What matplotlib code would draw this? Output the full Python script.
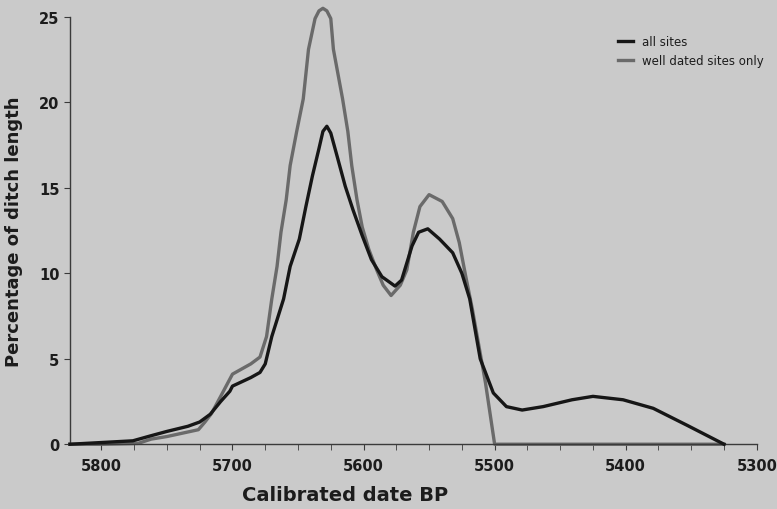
import matplotlib
matplotlib.use("Agg")
import matplotlib.pyplot as plt
from matplotlib.ticker import MultipleLocator

# all sites (black)
all_dates = [5824, 5800, 5776, 5762, 5750, 5734, 5725, 5717, 5709, 5702, 5700,
             5686, 5679, 5675, 5670, 5661, 5656, 5649, 5644, 5639, 5634, 5631,
             5628, 5625, 5620, 5614, 5608, 5601, 5594, 5586, 5576, 5571, 5563,
             5558, 5551, 5542, 5532, 5525, 5519, 5511, 5501, 5491, 5479, 5463,
             5441, 5425, 5402, 5379, 5353, 5325]
all_vals = [0.0, 0.1, 0.2, 0.5, 0.75, 1.05, 1.3, 1.75, 2.5, 3.1, 3.4,
            3.9, 4.2, 4.7, 6.3, 8.5, 10.4, 12.0, 13.9, 15.7, 17.3, 18.3,
            18.6, 18.2, 16.8, 15.1, 13.7, 12.2, 10.8, 9.8, 9.25, 9.6, 11.6,
            12.4, 12.6, 12.0, 11.2, 10.0, 8.5, 5.0, 3.0, 2.2, 2.0, 2.2,
            2.6, 2.8, 2.6, 2.1, 1.1, 0.0]

# well dated sites only (grey)
well_dates = [5824, 5800, 5772, 5762, 5750, 5735, 5726, 5721, 5716, 5709, 5700,
              5686, 5679, 5674, 5670, 5666, 5663, 5659, 5656, 5651, 5646, 5642,
              5637, 5634, 5631, 5628, 5625, 5623, 5616, 5612, 5609, 5605, 5601,
              5596, 5590, 5585, 5579, 5572, 5567, 5562, 5557, 5550, 5540, 5532,
              5527, 5522, 5517, 5507, 5500, 5325]
well_vals = [0.0, 0.0, 0.05, 0.3, 0.45, 0.7, 0.85, 1.3, 1.8, 2.8, 4.1,
             4.7, 5.1, 6.3, 8.5, 10.4, 12.4, 14.3, 16.3, 18.3, 20.2, 23.1,
             24.9, 25.35, 25.5, 25.35, 24.9, 23.1, 20.2, 18.3, 16.3, 14.3, 12.7,
             11.4, 10.2, 9.3, 8.7, 9.3, 10.2, 12.4, 13.9, 14.6, 14.2, 13.2,
             11.8, 9.8, 7.9, 3.6, 0.0, 0.0]

bg = "#cacaca"
fig = plt.figure(figsize=(7.77, 5.10), dpi=100, facecolor=bg)
ax = fig.add_axes([0.090, 0.127, 0.884, 0.838])
ax.set_facecolor(bg)

ax.plot(all_dates, all_vals, color="#161616", lw=2.4, label="all sites",
        clip_on=False, zorder=3)
ax.plot(well_dates, well_vals, color="#6a6a6a", lw=2.4,
        label="well dated sites only", clip_on=False, zorder=2)

ax.set_xlim(5824, 5300)
ax.set_ylim(0, 25)
ax.xaxis.set_major_locator(MultipleLocator(100))
ax.xaxis.set_minor_locator(MultipleLocator(25))
ax.yaxis.set_major_locator(MultipleLocator(5))

for s in ["top", "right"]:
    ax.spines[s].set_visible(False)
for s in ["left", "bottom"]:
    ax.spines[s].set_color("#3a3a3a")
    ax.spines[s].set_linewidth(1.0)

ax.tick_params(axis="both", which="both", direction="out", color="#3a3a3a")
ax.tick_params(axis="both", which="major", length=4, labelsize=10.5,
               labelcolor="#1c1c1c")
ax.tick_params(axis="x", which="minor", length=4)
ax.tick_params(axis="x", pad=6)
for lab in ax.get_xticklabels() + ax.get_yticklabels():
    lab.set_fontweight("bold")

ax.set_xlabel("Calibrated date BP", fontsize=14, fontweight="bold",
              color="#1c1c1c")
ax.xaxis.set_label_coords(0.40, -0.095)
ax.set_ylabel("Percentage of ditch length", fontsize=13, fontweight="bold",
              color="#1c1c1c")
ax.yaxis.set_label_coords(-0.068, 0.5)

leg = fig.legend(loc="upper left", bbox_to_anchor=(618 / 777, 1 - 36 / 510),
                 frameon=False, fontsize=8.5, handlelength=1.3,
                 handletextpad=0.7, labelspacing=0.5, borderpad=0,
                 borderaxespad=0)
for t in leg.get_texts():
    t.set_color("#1c1c1c")

fig.savefig("out.png", dpi=100, facecolor=bg)
